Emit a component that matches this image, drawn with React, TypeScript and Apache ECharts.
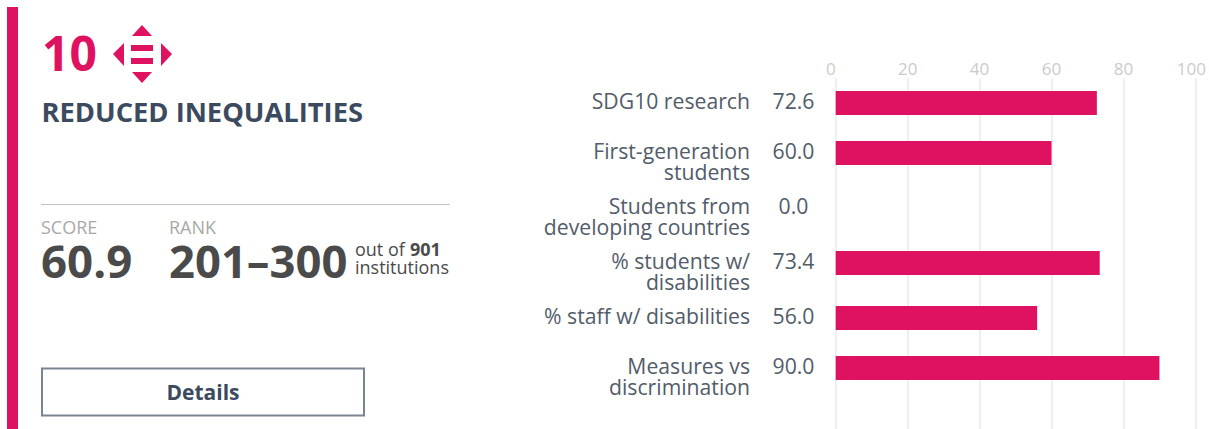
import React, { useEffect, useRef } from "react";
import * as echarts from "echarts";

const categories = [
  "SDG10 research",
  "First-generation\nstudents",
  "Students from\ndeveloping countries",
  "% students w/\ndisabilities",
  "% staff w/ disabilities",
  "Measures vs\ndiscrimination",
];
const values = [72.6, 60.0, 0.0, 73.4, 56.0, 90.0];
const ticks = [0, 20, 40, 60, 80, 100];

const PINK = "#df1261";
const SLATE = "#3b4a5e";
const LABEL = "#525c6a";
const GREY = "#4a4a4a";
const TICK = "#cbcbcb";
const FONT = '"Open Sans", "Noto Sans", sans-serif';

// Rows in the original are HTML table rows, so they are not evenly spaced:
// small pixel nudges from the even category bands.
const rowNudge = [-1.5, -4.5, -2.5, -0.5, 1.5, -1.5];

export default function App() {
  const ref = useRef<HTMLDivElement>(null);
  useEffect(() => {
    const chart = echarts.init(ref.current!, undefined, { renderer: "svg" });
    const tri = (pts: number[][]) => ({
      type: "polygon",
      shape: { points: pts },
      style: { fill: PINK },
    });
    const bar = (x: number, y: number, w: number, h: number, fill: string) => ({
      type: "rect",
      shape: { x, y, width: w, height: h },
      style: { fill },
    });
    const txt = (
      x: number,
      y: number,
      text: string,
      size: number,
      weight: number,
      fill: string,
      align = "left"
    ) => ({
      type: "text",
      x,
      y,
      style: {
        text,
        fontSize: size,
        fontWeight: weight,
        fill,
        fontFamily: FONT,
        textAlign: align,
        textVerticalAlign: "middle",
      },
    });
    chart.setOption({
      animation: false,
      textStyle: { fontFamily: FONT },
      grid: { left: 835.7, top: 78, width: 360, height: 371, containLabel: false },
      xAxis: {
        type: "value",
        position: "top",
        min: 0,
        max: 100,
        interval: 20,
        axisLine: { show: false },
        axisTick: { show: false },
        axisLabel: {
          color: TICK,
          fontSize: 17,
          margin: 1,
          alignMinLabel: "right",
          formatter: (v: number) =>
            ticks.includes(v) ? (v === 100 ? "{m|100}" : String(v)) : "",
          rich: { m: { color: TICK, fontSize: 17, padding: [0, 8, 0, 0] } },
        },
        splitLine: { show: true, lineStyle: { color: "#f0f0f0", width: 2 } },
      },
      yAxis: {
        type: "category",
        inverse: true,
        data: [...categories, ""],
        axisLine: { show: false },
        axisTick: { show: false },
        axisLabel: { show: false },
      },
      series: [
        {
          type: "custom",
          data: values.map((v, i) => [v, i]),
          encode: { x: 0, y: 1 },
          silent: true,
          clip: false,
          renderItem: (params: any, api: any) => {
            const i = params.dataIndex;
            const v = api.value(0);
            const origin = api.coord([0, i]);
            const end = api.coord([v, i]);
            const cy = origin[1] + rowNudge[i];
            const label = categories[i];
            const lines = label.split("\n").length;
            return {
              type: "group",
              children: [
                {
                  type: "rect",
                  shape: { x: origin[0], y: cy - 12, width: end[0] - origin[0], height: 24 },
                  style: { fill: PINK },
                },
                {
                  type: "text",
                  style: {
                    x: 750,
                    y: cy - 2.5 + ((lines - 1) * 21) / 2,
                    text: label,
                    fill: LABEL,
                    fontSize: 21.2,
                    lineHeight: 21,
                    fontFamily: FONT,
                    align: "right",
                    verticalAlign: "middle",
                  },
                },
                {
                  type: "text",
                  style: {
                    x: 793.5,
                    y: cy - 2.5,
                    text: v.toFixed(1),
                    fill: LABEL,
                    fontSize: 21.2,
                    fontFamily: FONT,
                    align: "center",
                    verticalAlign: "middle",
                  },
                },
              ],
            };
          },
        },
      ],
      graphic: [
        bar(7, 7, 11, 422, PINK),
        txt(42, 52, "10", 48, 700, PINK),
        tri([[132, 36], [152, 36], [142, 25]]),
        tri([[132, 72], [152, 72], [142, 83]]),
        tri([[124, 43], [124, 66], [113, 54]]),
        tri([[161, 43], [161, 66], [172, 54]]),
        bar(131, 45, 22, 6, PINK),
        bar(131, 58, 22, 6, PINK),
        txt(41.5, 111, "REDUCED INEQUALITIES", 27.3, 700, SLATE),
        bar(41, 204, 409, 1, "#c4c4c4"),
        txt(41, 227, "SCORE", 18, 400, "#a8a8a8"),
        txt(169, 227, "RANK", 18, 400, "#a8a8a8"),
        txt(41, 260, "60.9", 45.6, 700, GREY),
        txt(169, 260, "201–300", 45.4, 700, GREY),
        txt(355, 249, "out of", 18, 400, GREY),
        txt(410, 249, "901", 18, 700, GREY),
        txt(355, 267, "institutions", 18, 400, GREY),
        {
          type: "rect",
          shape: { x: 42, y: 368.5, width: 322, height: 47 },
          style: { fill: "#fff", stroke: "#7a8494", lineWidth: 2 },
        },
        txt(203, 391.5, "Details", 21, 700, SLATE, "center"),
      ],
    });
    return () => chart.dispose();
  }, []);
  return (
    <div style={{ width: 1209, height: 429, position: "fixed", left: 0, top: 0, overflow: "hidden", background: "#fff" }}>
      <div ref={ref} style={{ width: 1209, height: 449 }} />
    </div>
  );
}
